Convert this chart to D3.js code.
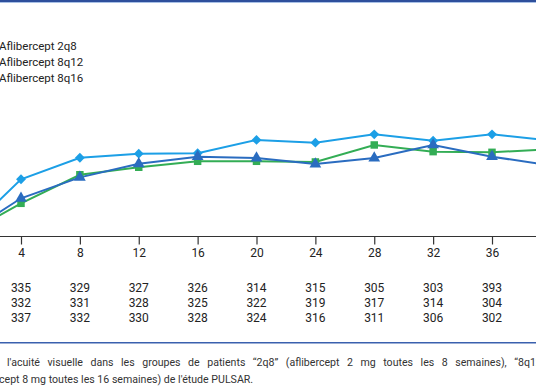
<!DOCTYPE html>
<html><head><meta charset="utf-8">
<script src="https://cdn.jsdelivr.net/npm/d3@7"></script>
<style>html,body{margin:0;padding:0;background:#fff;overflow:hidden}svg{display:block}</style>
</head><body><svg id="c" width="536" height="386"></svg>
<script>
const weeks = [0,4,8,12,16,20,24,28,32,36,40];
const tickWeeks = [4,8,12,16,20,24,28,32,36,40];
const series2q8  = [0,4.21,5.79,6.09,6.12,7.10,6.90,7.51,7.04,7.51,7.05];
const series8q12 = [0,2.44,4.54,5.09,5.53,5.53,5.48,6.73,6.24,6.19,6.42];
const series8q16 = [0,2.81,4.35,5.35,5.87,5.77,5.33,5.77,6.73,5.87,5.22];
const legendLabels = ["Aflibercept 2q8","Aflibercept 8q12","Aflibercept 8q16"];
const nWeeks = [4,8,12,16,20,24,28,32,36];
const n2q8  = [335,329,327,326,314,315,305,303,393];
const n8q12 = [332,331,328,325,322,319,317,314,304];
const n8q16 = [337,332,330,328,324,316,311,306,302];
const caption1 = "Variation moyenne de l'acuité visuelle dans les groupes de patients “2q8” (aflibercept 2 mg toutes les 8 semaines), “8q12” (aflibercept 8 mg toutes les 12 semaines) et “8q16”";
const caption2 = "(aflibercept 8 mg toutes les 16 semaines) de l'étude PULSAR.";

const svg = d3.select("#c");
const font = "Roboto, 'Liberation Sans', sans-serif";
const x = d3.scaleLinear().domain([4,36]).range([21,492]);
const y = d3.scaleLinear().domain([0,10]).range([236.5,100.5]);

// top border
svg.append("rect").attr("x",0).attr("y",0).attr("width",536).attr("height",2).attr("fill","#2e4f9c");
svg.append("rect").attr("x",0).attr("y",2).attr("width",536).attr("height",1).attr("fill","#a8c0e6");

// legend
legendLabels.forEach((t,i)=>{
  svg.append("text").attr("x",-1).attr("y",50+i*16).attr("font-family",font).attr("font-size",11.5)
    .attr("fill","#222").text(t);
});

// axis
const axis = d3.axisBottom(x).tickValues(tickWeeks).tickSize(8).tickPadding(4).tickFormat(d3.format("d"));
const gA = svg.append("g").attr("transform",`translate(0,${y(0)})`).call(axis);
gA.select(".domain").remove();
gA.selectAll(".tick line").attr("stroke","#333").attr("stroke-width",1.2);
gA.selectAll(".tick text").attr("font-family",font).attr("font-size",12).attr("fill","#222");
svg.append("line").attr("x1",x(-4)).attr("x2",x(42)).attr("y1",y(0)).attr("y2",y(0))
  .attr("stroke","#333").attr("stroke-width",1.2);

// series
const defs = [
  {v:series2q8, c:"#1c9fe6", sym:d3.symbolDiamond2, size:62},
  {v:series8q12, c:"#33ad55", sym:d3.symbolSquare, size:56},
  {v:series8q16, c:"#2a6cc0", sym:d3.symbolTriangle, size:60}
];
const line = d3.line().x((d,i)=>x(weeks[i])).y(d=>y(d));
defs.forEach(s=>{
  svg.append("path").datum(s.v).attr("d",line).attr("fill","none").attr("stroke",s.c).attr("stroke-width",2);
});
defs.forEach(s=>{
  svg.append("g").selectAll("path").data(s.v).join("path")
    .attr("transform",(d,i)=>`translate(${x(weeks[i])},${y(d)})`)
    .attr("d",d3.symbol().type(s.sym).size(s.size)).attr("fill",s.c);
});

// numbers at risk
[n2q8,n8q12,n8q16].forEach((row,r)=>{
  svg.append("g").selectAll("text").data(row).join("text")
    .attr("x",(d,i)=>x(nWeeks[i])).attr("y",292+r*15)
    .attr("text-anchor","middle").attr("font-family",font).attr("font-size",12).attr("fill","#222")
    .text(d=>d);
});

// separator
svg.append("rect").attr("x",0).attr("y",342).attr("width",536).attr("height",1.5).attr("fill","#3a60ae");

// caption
function cap(txt, prefix, targetX, yy, ws){
  const t = svg.append("text").attr("x",0).attr("y",yy).attr("font-family",font).attr("font-size",10.6)
    .attr("fill","#333").attr("word-spacing",ws).text(txt);
  const w = t.node().getSubStringLength(0,prefix.length);
  t.attr("x",targetX - w);
}
cap(caption1, "Variation moyenne de ", 7, 366, 4.9);
cap("et “8q16” " + caption2, "et “8q16” (afliber", -1, 383, 0);
</script></body></html>
